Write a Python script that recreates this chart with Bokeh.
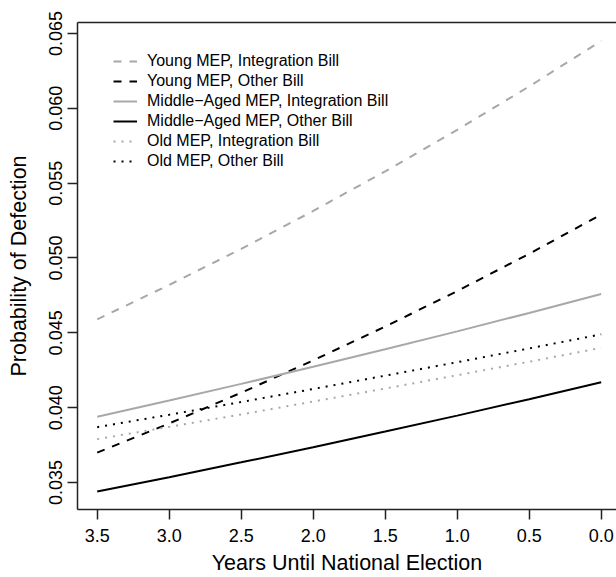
from bokeh.plotting import figure
from bokeh.models import Range1d, LinearAxis, FixedTicker, Legend, LegendItem
from bokeh.embed import file_html
from bokeh.resources import INLINE

# ---- data ----
years = [3.5, 3.0, 2.5, 2.0, 1.5, 1.0, 0.5, 0.0]

young_integration = [0.04590, 0.04820, 0.05061, 0.05314, 0.05579, 0.05856, 0.06146, 0.06450]
young_other = [0.03700, 0.03895, 0.04100, 0.04316, 0.04542, 0.04779, 0.05028, 0.05290]
middle_integration = [0.03940, 0.04048, 0.04159, 0.04273, 0.04390, 0.04510, 0.04633, 0.04760]
middle_other = [0.03440, 0.03536, 0.03635, 0.03736, 0.03841, 0.03947, 0.04057, 0.04170]
old_integration = [0.03790, 0.03872, 0.03955, 0.04041, 0.04128, 0.04217, 0.04307, 0.04400]
old_other = [0.03870, 0.03953, 0.04038, 0.04125, 0.04214, 0.04304, 0.04396, 0.04490]

series_labels = [
    "Young MEP, Integration Bill",
    "Young MEP, Other Bill",
    "Middle\u2212Aged MEP, Integration Bill",
    "Middle\u2212Aged MEP, Other Bill",
    "Old MEP, Integration Bill",
    "Old MEP, Other Bill",
]

x_ticks = [3.5, 3.0, 2.5, 2.0, 1.5, 1.0, 0.5, 0.0]
x_tick_labels = ["3.5", "3.0", "2.5", "2.0", "1.5", "1.0", "0.5", "0.0"]
y_ticks = [0.035, 0.040, 0.045, 0.050, 0.055, 0.060, 0.065]
y_tick_labels = ["0.035", "0.040", "0.045", "0.050", "0.055", "0.060", "0.065"]

x_title = "Years Until National Election"
y_title = "Probability of Defection"

# ---- styling ----
FONT = "Liberation Sans"
GRAY = "#a8a8a8"
BLACK = "#000000"
AXIS_COLOR = "#222222"

series = [
    (young_integration, GRAY, "8 8"),
    (young_other, BLACK, "8 8"),
    (middle_integration, GRAY, "solid"),
    (middle_other, BLACK, "solid"),
    (old_integration, GRAY, "2 6"),
    (old_other, BLACK, "2 6"),
]

p = figure(
    width=616, height=577,
    output_backend="svg", toolbar_location=None,
    x_range=Range1d(3.6368, -0.1063),
    y_range=Range1d(0.0332, 0.06573),
    x_axis_location="below", y_axis_location="left",
    min_border_left=77, min_border_right=0,
    min_border_top=22, min_border_bottom=67,
)
p.outline_line_color = None
p.grid.visible = False
p.background_fill_color = "white"
p.border_fill_color = "white"

renderers = []
for vals, col, dash in series:
    r = p.line(years, vals, line_color=col, line_width=2, line_dash=dash, line_cap="butt")
    renderers.append(r)

# axes
xa = p.xaxis[0]
xa.ticker = FixedTicker(ticks=x_ticks)
xa.major_label_overrides = {t: l for t, l in zip(x_ticks, x_tick_labels)}
xa.axis_label = x_title
ya = p.yaxis[0]
ya.ticker = FixedTicker(ticks=y_ticks)
ya.major_label_overrides = {t: l for t, l in zip(y_ticks, y_tick_labels)}
ya.axis_label = y_title
ya.major_label_orientation = "vertical"

for ax in (xa, ya):
    ax.minor_tick_line_color = None
    ax.major_tick_in = 0
    ax.major_tick_out = 10
    ax.axis_line_color = AXIS_COLOR
    ax.axis_line_width = 1.5
    ax.major_tick_line_color = AXIS_COLOR
    ax.major_tick_line_width = 1.5
    ax.major_label_text_font = FONT
    ax.major_label_text_font_size = "18px"
    ax.major_label_text_color = BLACK
    ax.axis_label_text_font = FONT
    ax.axis_label_text_font_size = "21.5px"
    ax.axis_label_text_font_style = "normal"
    ax.axis_label_text_color = BLACK

xa.major_label_standoff = 9
xa.axis_label_standoff = 6
ya.major_label_standoff = 5
ya.axis_label_standoff = 16

# top edge of the box
top = LinearAxis(ticker=FixedTicker(ticks=[]))
top.major_label_text_font_size = "0px"
top.major_tick_line_color = None
top.minor_tick_line_color = None
top.axis_line_color = AXIS_COLOR
top.axis_line_width = 1.5
p.add_layout(top, "above")

# legend
items = [LegendItem(label=lab, renderers=[r]) for lab, r in zip(series_labels, renderers)]
legend = Legend(
    items=items,
    location=(36, 338),
    padding=0, margin=0, spacing=0,
    glyph_width=24, glyph_height=20, label_height=20,
    label_standoff=10,
    label_text_font=FONT, label_text_font_size="16px", label_text_color=BLACK,
    background_fill_alpha=0, border_line_alpha=0,
)
p.add_layout(legend)

open("out.html", "w").write(file_html(p, INLINE))
